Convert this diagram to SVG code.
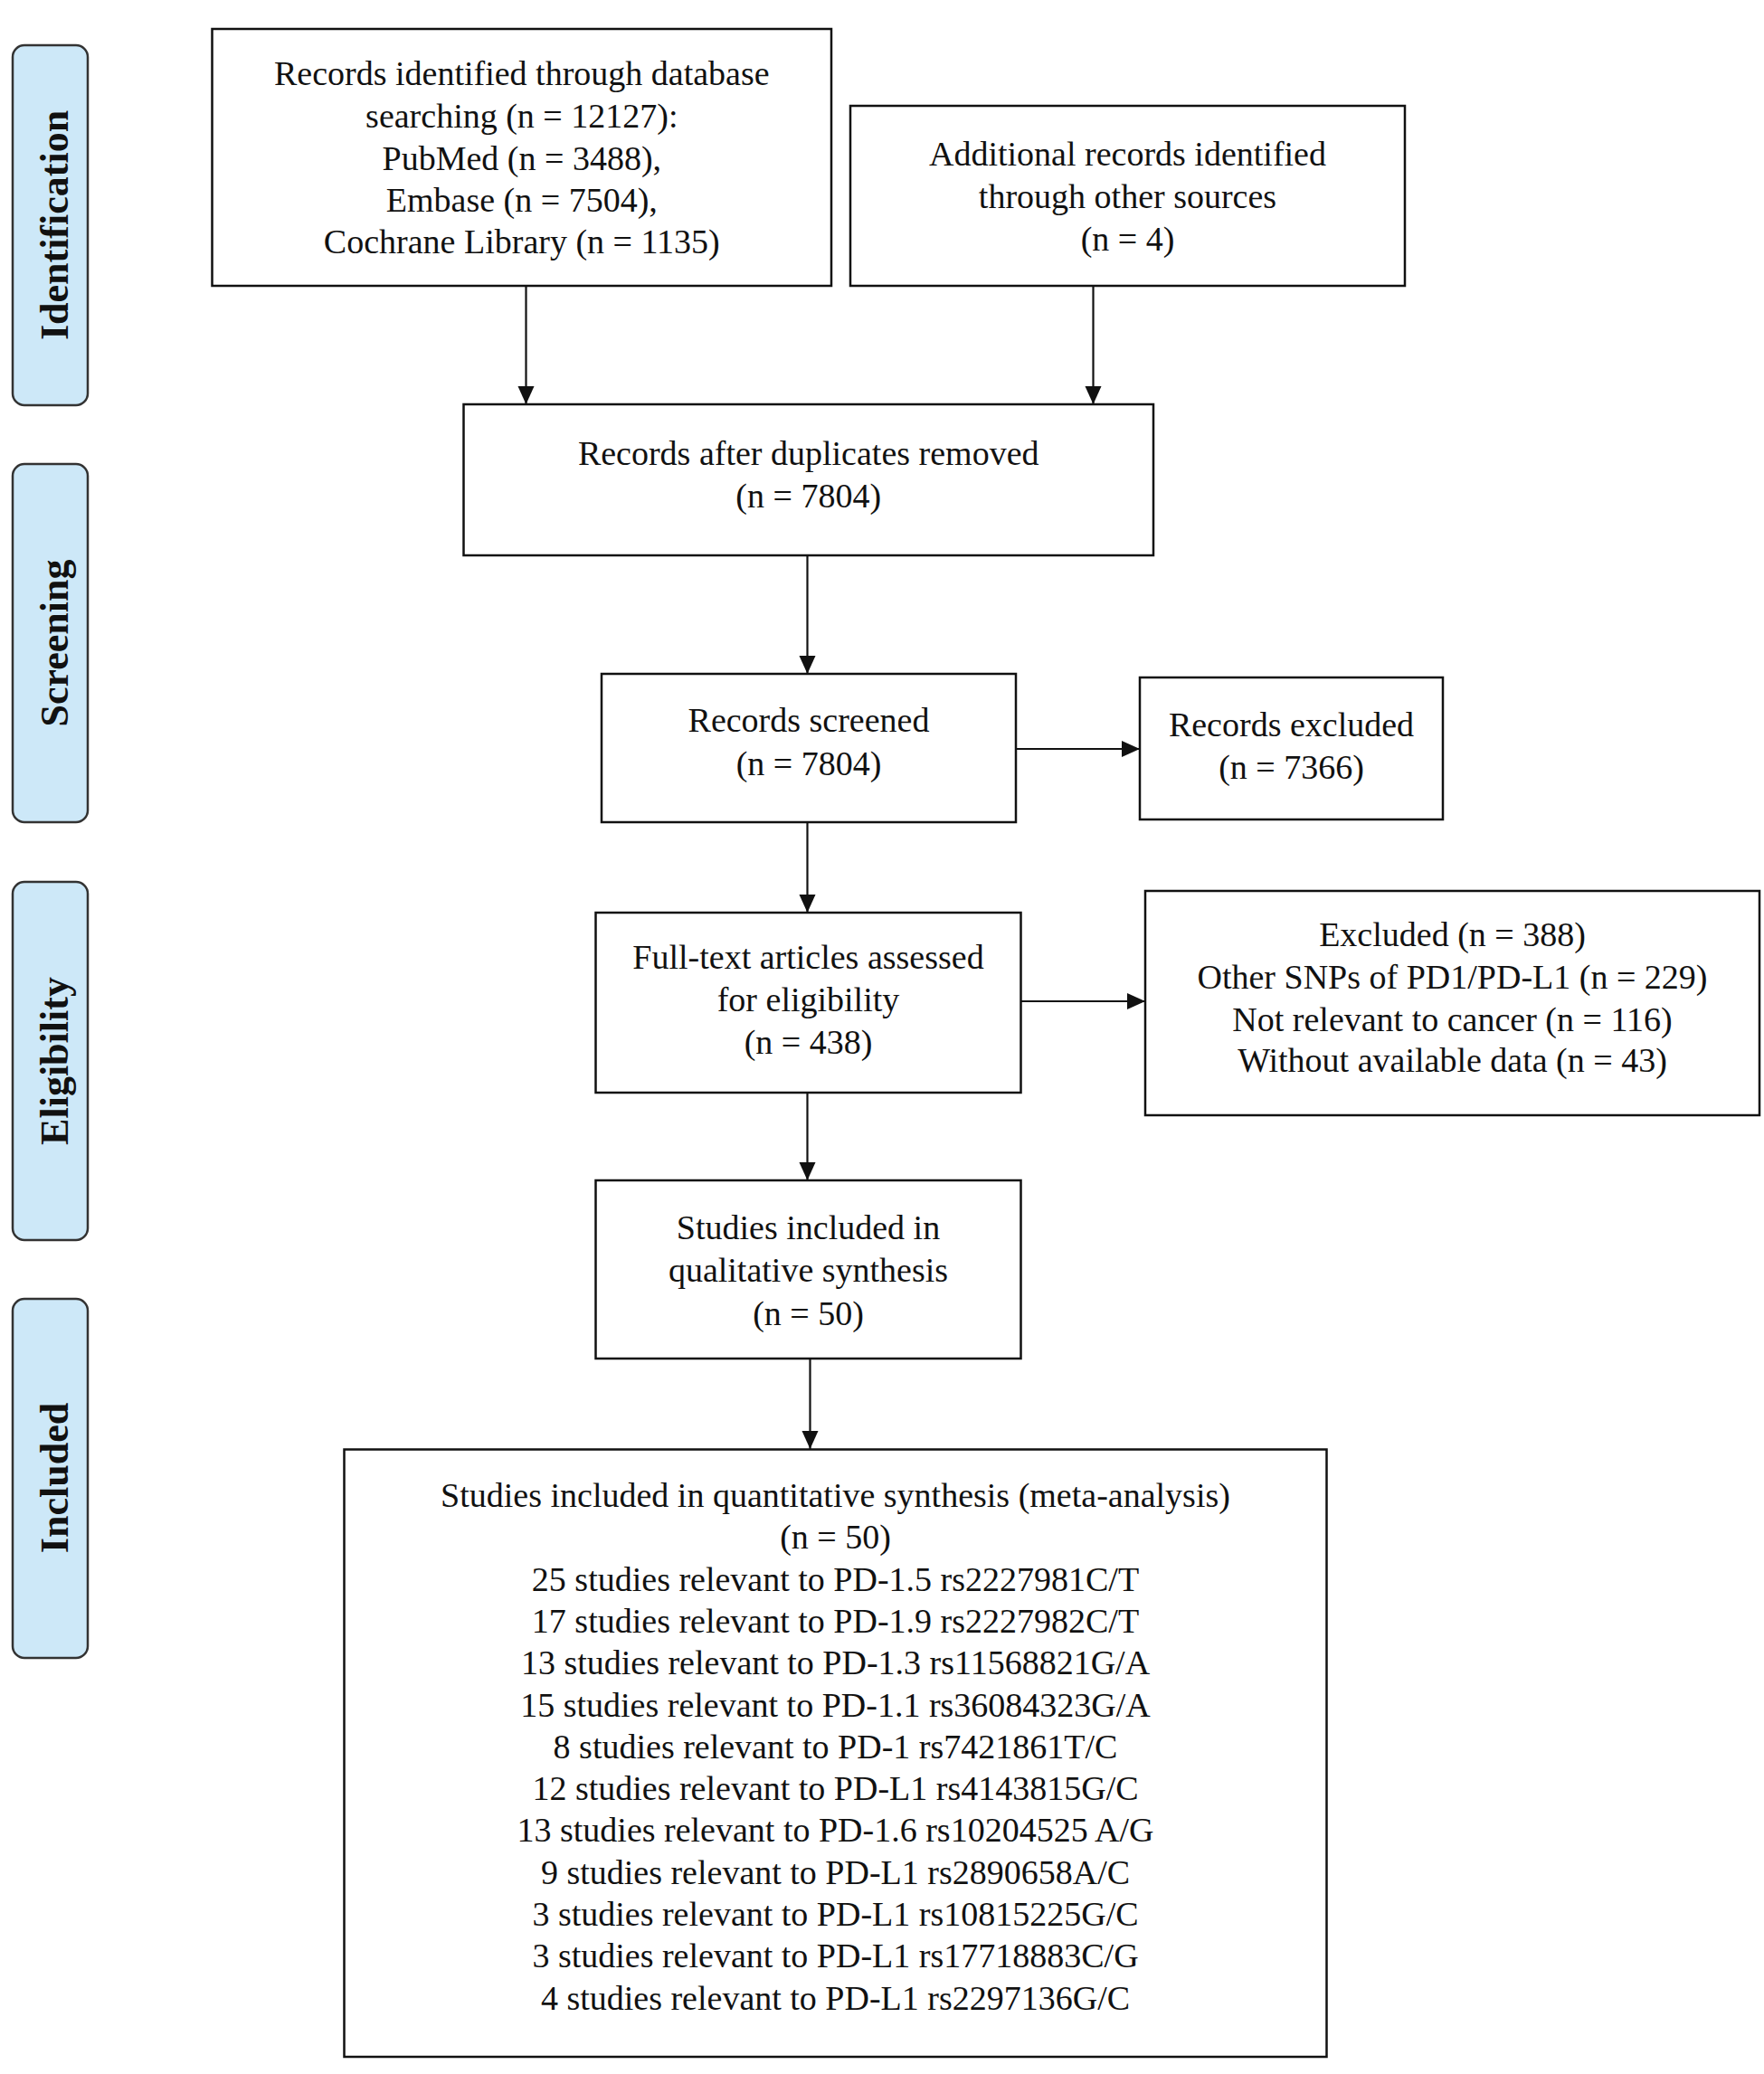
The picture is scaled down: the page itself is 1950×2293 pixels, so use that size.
<svg xmlns="http://www.w3.org/2000/svg" width="1950" height="2293" viewBox="0 0 1950 2293">
<style>
.bg{fill:#ffffff}
.box{fill:#ffffff;stroke:#111111;stroke-width:2.5}
.lab{fill:#cde8f8;stroke:#333333;stroke-width:2.5}
.t{font-family:"Liberation Serif","Times New Roman",serif;font-size:38px;fill:#111111;text-anchor:middle}
.lt{font-family:"Liberation Serif","Times New Roman",serif;font-size:44px;font-weight:bold;fill:#111111;text-anchor:middle}
.c{stroke:#111111;stroke-width:2.2;fill:none;marker-end:url(#ah)}
</style>
<defs>
<marker id="ah" viewBox="0 0 20 20" refX="20" refY="10" markerWidth="20" markerHeight="20" markerUnits="userSpaceOnUse" orient="auto">
<path d="M0,1 L20,10 L0,19 Z" fill="#111111"/>
</marker>
</defs>
<rect class="bg" x="0" y="0" width="1950" height="2293"/>

<g id="label-identification">
<rect class="lab" x="14" y="50" width="83" height="398" rx="13"/>
<text class="lt" transform="translate(75,249) rotate(-90)">Identification</text>
</g>
<g id="label-screening">
<rect class="lab" x="14" y="513" width="83" height="396" rx="13"/>
<text class="lt" transform="translate(75,711) rotate(-90)">Screening</text>
</g>
<g id="label-eligibility">
<rect class="lab" x="14" y="975" width="83" height="396" rx="13"/>
<text class="lt" transform="translate(75,1173) rotate(-90)">Eligibility</text>
</g>
<g id="label-included">
<rect class="lab" x="14" y="1436" width="83" height="397" rx="13"/>
<text class="lt" transform="translate(75,1634) rotate(-90)">Included</text>
</g>

<g id="connectors">
<line class="c" x1="581.5" y1="316" x2="581.5" y2="447"/>
<line class="c" x1="1208.5" y1="316" x2="1208.5" y2="447"/>
<line class="c" x1="892.5" y1="614" x2="892.5" y2="745"/>
<line class="c" x1="892.5" y1="909" x2="892.5" y2="1009"/>
<line class="c" x1="892.5" y1="1208" x2="892.5" y2="1305"/>
<line class="c" x1="895.5" y1="1502" x2="895.5" y2="1602"/>
<line class="c" x1="1123" y1="828" x2="1260" y2="828"/>
<line class="c" x1="1128.5" y1="1107" x2="1266" y2="1107"/>
</g>

<g id="node-database">
<rect class="box" x="234.5" y="32" width="684.5" height="284"/>
<text class="t" x="576.8" y="94">Records identified through database</text>
<text class="t" x="576.8" y="141">searching (n = 12127):</text>
<text class="t" x="576.8" y="188">PubMed (n = 3488),</text>
<text class="t" x="576.8" y="234">Embase (n = 7504),</text>
<text class="t" x="576.8" y="280">Cochrane Library (n = 1135)</text>
</g>

<g id="node-other">
<rect class="box" x="940" y="117" width="613" height="199"/>
<text class="t" x="1246.5" y="183">Additional records identified</text>
<text class="t" x="1246.5" y="230">through other sources</text>
<text class="t" x="1246.5" y="277">(n = 4)</text>
</g>

<g id="node-duplicates">
<rect class="box" x="512.5" y="447" width="762.5" height="167"/>
<text class="t" x="893.7" y="514">Records after duplicates removed</text>
<text class="t" x="893.7" y="561">(n = 7804)</text>
</g>

<g id="node-screened">
<rect class="box" x="665" y="745" width="458" height="164"/>
<text class="t" x="894" y="809">Records screened</text>
<text class="t" x="894" y="857">(n = 7804)</text>
</g>

<g id="node-excluded">
<rect class="box" x="1260" y="749" width="335" height="157"/>
<text class="t" x="1427.5" y="814">Records excluded</text>
<text class="t" x="1427.5" y="861">(n = 7366)</text>
</g>

<g id="node-fulltext">
<rect class="box" x="658.5" y="1009" width="470" height="199"/>
<text class="t" x="893.5" y="1071">Full-text articles assessed</text>
<text class="t" x="893.5" y="1118">for eligibility</text>
<text class="t" x="893.5" y="1165">(n = 438)</text>
</g>

<g id="node-excluded2">
<rect class="box" x="1266" y="985" width="679" height="248"/>
<text class="t" x="1605.5" y="1046">Excluded (n = 388)</text>
<text class="t" x="1605.5" y="1093">Other SNPs of PD1/PD-L1 (n = 229)</text>
<text class="t" x="1605.5" y="1140">Not relevant to cancer (n = 116)</text>
<text class="t" x="1605.5" y="1185">Without available data (n = 43)</text>
</g>

<g id="node-qualitative">
<rect class="box" x="658.5" y="1305" width="470" height="197"/>
<text class="t" x="893.5" y="1370">Studies included in</text>
<text class="t" x="893.5" y="1417">qualitative synthesis</text>
<text class="t" x="893.5" y="1465">(n = 50)</text>
</g>

<g id="node-quantitative">
<rect class="box" x="380.5" y="1602.5" width="1086" height="671.5"/>
<text class="t" x="923.5" y="1666">Studies included in quantitative synthesis (meta-analysis)</text>
<text class="t" x="923.5" y="1712.3">(n = 50)</text>
<text class="t" x="923.5" y="1758.6">25 studies relevant to PD-1.5 rs2227981C/T</text>
<text class="t" x="923.5" y="1804.9">17 studies relevant to PD-1.9 rs2227982C/T</text>
<text class="t" x="923.5" y="1851.2">13 studies relevant to PD-1.3 rs11568821G/A</text>
<text class="t" x="923.5" y="1897.5">15 studies relevant to PD-1.1 rs36084323G/A</text>
<text class="t" x="923.5" y="1943.8">8 studies relevant to PD-1 rs7421861T/C</text>
<text class="t" x="923.5" y="1990.1">12 studies relevant to PD-L1 rs4143815G/C</text>
<text class="t" x="923.5" y="2036.4">13 studies relevant to PD-1.6 rs10204525 A/G</text>
<text class="t" x="923.5" y="2082.7">9 studies relevant to PD-L1 rs2890658A/C</text>
<text class="t" x="923.5" y="2129">3 studies relevant to PD-L1 rs10815225G/C</text>
<text class="t" x="923.5" y="2175.3">3 studies relevant to PD-L1 rs17718883C/G</text>
<text class="t" x="923.5" y="2221.6">4 studies relevant to PD-L1 rs2297136G/C</text>
</g>
</svg>
